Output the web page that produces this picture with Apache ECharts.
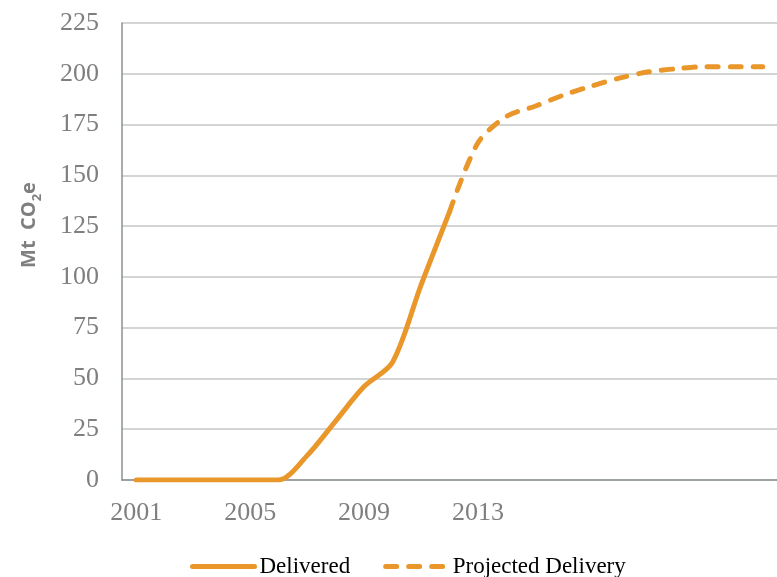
<!DOCTYPE html>
<html>
<head>
<meta charset="utf-8">
<script src="https://cdn.jsdelivr.net/npm/echarts@6/dist/echarts.min.js"></script>
<style>
html,body{margin:0;padding:0;background:#fff;}
#chart{width:777px;height:577px;}
</style>
</head>
<body>
<div id="chart"></div>
<script>
// Categories (years)
const years = ['2001','2002','2003','2004','2005','2006','2007','2008','2009','2010','2011','2012',
               '2013','2014','2015','2016','2017','2018','2019','2020','2021','2022','2023'];
// Tick labels shown on the x axis
const xTickLabels = ['2001','2005','2009','2013'];
// Y axis ticks
const yMin = 0, yMax = 225, yStep = 25;
// Series values (Mt CO2e)
const delivered = [0,0,0,0,0,0,12,29,46,58,96,132,
                   null,null,null,null,null,null,null,null,null,null,null];
const projected = [null,null,null,null,null,null,null,null,null,null,null,132,
                   166,179,184,189.5,194,198,201,202.5,203.5,203.5,203.5];

const orange = '#E9972A';
const chart = echarts.init(document.getElementById('chart'));
chart.setOption({
  animation: false,
  backgroundColor: '#fff',
  grid: {left: 122, top: 23, bottom: 97, right: -13.4, containLabel: false},
  xAxis: {
    type: 'category',
    data: years,
    boundaryGap: true,
    axisLine: {lineStyle: {color: '#8a9090', width: 1.5}},
    axisTick: {show: false},
    axisLabel: {
      interval: 0,
      margin: 20,
      color: '#7f7f7f',
      fontFamily: 'Liberation Serif',
      fontSize: 26,
      formatter: v => xTickLabels.indexOf(v) >= 0 ? v : ''
    },
    splitLine: {show: false}
  },
  yAxis: {
    type: 'value',
    min: yMin, max: yMax, interval: yStep,
    axisLine: {show: true, lineStyle: {color: '#8a9090', width: 1.5}},
    axisTick: {show: false},
    axisLabel: {margin: 23, color: '#7f7f7f', fontFamily: 'Liberation Serif', fontSize: 26},
    splitLine: {lineStyle: {color: '#c4c6c6', width: 1.5}}
  },
  legend: {
    left: 190, top: 555, padding: 0,
    itemWidth: 62, itemHeight: 14, itemGap: 33,
    itemStyle: {opacity: 0},
    lineStyle: {width: 5, cap: 'round'},
    textStyle: {color: '#000', fontFamily: 'Liberation Serif', fontSize: 23},
    data: [
      {name: 'Delivered'},
      {name: 'Projected Delivery', lineStyle: {width: 5, type: [11, 12], cap: 'round'}}
    ]
  },
  graphic: [{
    type: 'text',
    x: 27, y: 225,
    rotation: Math.PI / 2,
    style: {
      text: '{a|Mt  CO}{s|2}{a|e}',
      align: 'center',
      verticalAlign: 'middle',
      rich: {
        a: {fontFamily: 'Open Sans', fontWeight: 'bold', fontSize: 20, fill: '#7f7f7f', lineHeight: 24, verticalAlign: 'bottom'},
        s: {fontFamily: 'Open Sans', fontWeight: 'bold', fontSize: 13, fill: '#7f7f7f', lineHeight: 24, verticalAlign: 'bottom', padding: [0,0,-5,0]}
      }
    }
  }],
  series: [
    {
      name: 'Delivered', type: 'line', data: delivered, smooth: 0.3,
      symbol: 'none', connectNulls: false,
      lineStyle: {color: orange, width: 5, cap: 'round'},
      itemStyle: {color: orange}
    },
    {
      name: 'Projected Delivery', type: 'line', data: projected, smooth: 0.3,
      symbol: 'none', connectNulls: false,
      lineStyle: {color: orange, width: 5, type: [11, 12], cap: 'round'},
      itemStyle: {color: orange}
    }
  ]
});
</script>
</body>
</html>
